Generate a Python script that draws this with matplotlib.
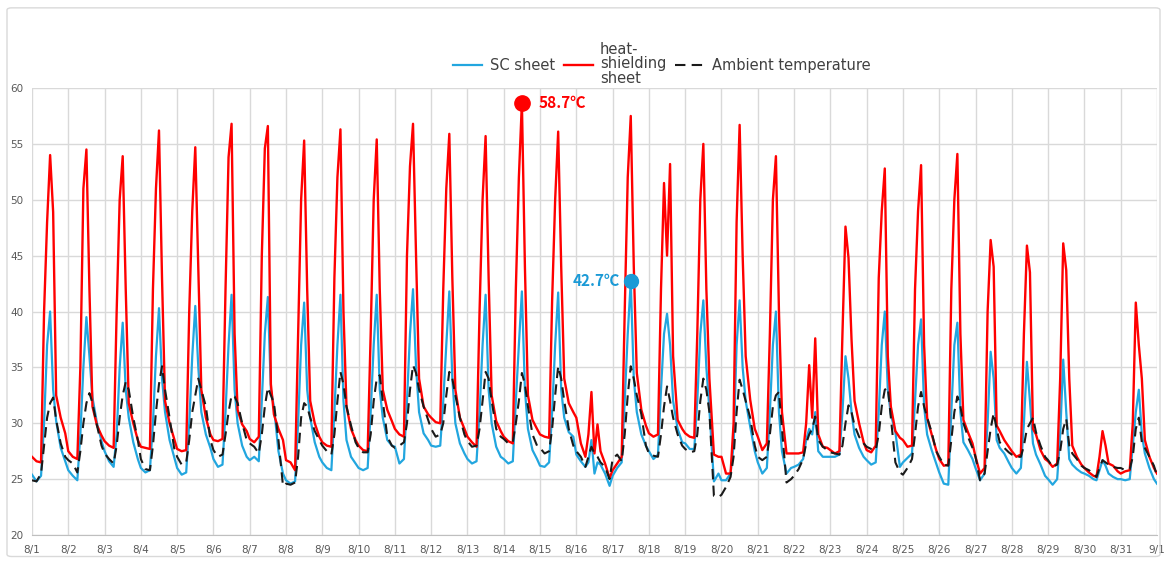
import numpy as np
import matplotlib
matplotlib.use("Agg")
import matplotlib.pyplot as plt
from matplotlib.patches import FancyBboxPatch

hours = [0, 3, 6, 8, 10, 12, 14, 16, 19, 22]
day_labels = [f"8/{d}" for d in range(1, 32)] + ["9/1"]

# heat-shielding sheet (one row per day, 8/1 .. 8/31)
heat_sheet = [
    [27.0, 26.6, 26.5, 40.0, 48.0, 54.0, 48.9, 32.5, 30.5, 29.1],
    [27.5, 27.0, 26.8, 35.0, 51.0, 54.5, 42.0, 31.5, 29.8, 28.9],
    [28.4, 28.0, 27.8, 40.0, 50.0, 53.9, 42.0, 31.8, 30.0, 28.5],
    [27.9, 27.8, 27.7, 42.0, 51.0, 56.2, 43.0, 32.0, 30.0, 28.6],
    [27.7, 27.5, 27.6, 40.0, 49.0, 54.7, 44.0, 33.0, 30.5, 29.0],
    [28.5, 28.4, 28.6, 42.0, 53.8, 56.8, 38.0, 31.2, 29.9, 29.3],
    [28.6, 28.3, 28.8, 45.0, 54.6, 56.6, 33.5, 30.8, 29.5, 28.5],
    [26.7, 26.5, 25.8, 38.0, 50.0, 55.3, 42.0, 32.0, 30.0, 28.8],
    [28.3, 28.0, 27.9, 43.0, 52.0, 56.3, 40.0, 31.5, 29.5, 28.5],
    [28.0, 27.6, 27.5, 38.0, 50.0, 55.4, 42.0, 33.0, 31.2, 30.2],
    [29.5, 29.0, 28.8, 45.0, 53.0, 56.8, 45.0, 34.0, 31.5, 30.8],
    [30.5, 30.1, 30.0, 42.0, 51.0, 55.9, 43.0, 33.0, 30.5, 29.5],
    [28.8, 28.3, 27.9, 40.0, 50.0, 55.7, 43.0, 32.5, 30.2, 29.3],
    [28.8, 28.4, 28.2, 42.0, 52.0, 58.7, 44.0, 32.5, 30.3, 29.5],
    [29.0, 28.8, 28.7, 41.0, 50.0, 56.1, 44.0, 34.0, 31.8, 31.0],
    [30.5, 28.2, 27.0, 29.0, 32.8, 27.3, 29.9, 27.5, 26.4, 25.1],
    [25.8, 26.4, 27.0, 40.0, 52.0, 57.5, 44.0, 34.5, 31.2, 29.8],
    [29.1, 28.8, 29.0, 42.0, 51.5, 45.0, 53.2, 36.0, 30.3, 29.5],
    [29.1, 28.8, 28.7, 38.0, 50.0, 55.0, 42.0, 34.0, 27.2, 27.0],
    [27.0, 25.5, 25.5, 30.0, 48.0, 56.7, 45.0, 36.0, 32.1, 29.5],
    [28.8, 27.6, 28.2, 38.0, 50.0, 53.9, 40.0, 31.0, 27.3, 27.3],
    [27.3, 27.3, 27.4, 30.0, 35.2, 30.5, 37.6, 29.0, 27.9, 27.8],
    [27.6, 27.3, 27.5, 38.0, 47.6, 44.8, 37.5, 32.0, 30.0, 28.3],
    [27.6, 27.4, 28.0, 43.0, 49.0, 52.8, 36.0, 31.5, 29.3, 28.7],
    [28.5, 27.9, 28.0, 42.0, 49.0, 53.1, 37.0, 30.5, 29.0, 27.6],
    [26.8, 26.2, 26.3, 42.0, 50.0, 54.1, 38.0, 30.3, 29.2, 28.2],
    [27.0, 25.5, 26.0, 40.0, 46.4, 44.0, 29.8, 29.3, 28.5, 27.9],
    [27.5, 27.0, 27.2, 38.0, 45.9, 43.5, 29.5, 29.0, 27.6, 26.8],
    [26.6, 26.1, 26.4, 34.0, 46.1, 43.7, 34.0, 28.0, 27.0, 26.3],
    [26.0, 25.6, 25.3, 25.2, 27.0, 29.3, 28.0, 26.4, 26.2, 25.7],
    [25.5, 25.7, 25.8, 30.0, 40.8, 37.0, 34.0, 28.5, 27.0, 26.0],
]
heat_sheet_end = 25.5

# SC sheet
sc_sheet = [
    [25.4, 24.8, 25.3, 30.0, 37.0, 40.0, 33.0, 30.2, 27.8, 26.6],
    [25.8, 25.3, 24.9, 29.0, 35.0, 39.5, 36.0, 32.3, 30.0, 28.4],
    [27.5, 26.6, 26.1, 29.0, 35.0, 39.0, 33.0, 30.5, 28.3, 26.8],
    [26.0, 25.6, 25.8, 30.0, 36.0, 40.3, 34.0, 31.0, 28.5, 27.0],
    [26.0, 25.4, 25.6, 30.0, 36.0, 40.5, 35.0, 31.0, 29.0, 27.8],
    [26.8, 26.1, 26.3, 31.0, 37.0, 41.5, 33.0, 30.0, 28.0, 27.0],
    [26.7, 27.0, 26.6, 32.0, 38.0, 41.3, 33.0, 31.5, 27.5, 25.5],
    [24.9, 24.6, 24.8, 30.0, 37.0, 40.8, 33.0, 30.5, 28.3, 27.0],
    [26.5, 26.0, 25.8, 31.0, 37.0, 41.5, 32.0, 28.5, 27.0, 26.4],
    [26.0, 25.8, 26.0, 31.0, 37.0, 41.5, 33.0, 30.5, 28.5, 28.0],
    [27.9, 26.4, 26.8, 32.0, 38.0, 42.0, 35.0, 31.0, 29.1, 28.5],
    [28.0, 27.9, 28.0, 32.0, 37.0, 41.8, 34.0, 30.0, 28.2, 27.3],
    [26.8, 26.4, 26.6, 31.0, 37.0, 41.5, 33.0, 30.0, 27.9, 27.0],
    [26.8, 26.4, 26.6, 32.0, 37.0, 41.8, 33.0, 29.5, 27.6, 26.8],
    [26.2, 26.1, 26.5, 31.0, 37.0, 41.7, 33.0, 30.5, 29.2, 28.8],
    [27.2, 26.6, 26.1, 26.5, 28.5, 25.5, 26.5, 26.3, 25.5, 24.4],
    [25.3, 26.0, 26.5, 32.0, 38.0, 42.7, 34.0, 31.0, 29.0, 28.0],
    [27.5, 26.8, 27.2, 33.0, 38.0, 39.8, 37.0, 32.0, 29.5, 28.3],
    [28.2, 27.7, 27.7, 32.0, 38.0, 41.0, 35.0, 31.2, 24.8, 25.5],
    [24.9, 24.9, 25.5, 28.0, 37.0, 41.0, 35.0, 32.0, 29.7, 27.5],
    [26.5, 25.5, 26.0, 31.0, 37.0, 40.0, 31.0, 27.5, 25.5, 26.0],
    [26.1, 26.3, 26.8, 28.5, 29.5, 29.0, 31.0, 27.5, 27.0, 27.0],
    [27.0, 27.0, 27.2, 31.0, 36.0, 34.0, 31.0, 29.0, 27.8, 27.0],
    [26.7, 26.3, 26.5, 31.0, 37.0, 40.0, 33.0, 30.8, 29.2, 26.1],
    [26.5, 26.9, 27.3, 32.0, 37.0, 39.3, 31.5, 29.0, 27.6, 26.4],
    [25.6, 24.6, 24.5, 31.0, 37.0, 39.0, 31.0, 28.3, 27.6, 26.8],
    [26.0, 24.9, 25.5, 30.0, 36.4, 34.0, 28.5, 27.8, 27.3, 26.5],
    [26.0, 25.5, 26.0, 30.0, 35.5, 32.0, 28.2, 27.2, 26.3, 25.3],
    [25.0, 24.5, 25.0, 29.0, 35.7, 31.0, 26.8, 26.3, 25.9, 25.6],
    [25.5, 25.3, 25.0, 24.9, 25.8, 26.7, 26.2, 25.5, 25.2, 25.0],
    [25.0, 24.9, 25.0, 28.0, 31.0, 33.0, 29.0, 27.3, 26.0, 25.0],
]
sc_sheet_end = 24.6

# ambient temperature
ambient = [
    [24.9, 24.8, 25.5, 28.0, 30.5, 31.8, 32.3, 30.3, 28.2, 27.0],
    [26.7, 26.4, 25.6, 27.5, 30.0, 31.8, 32.7, 31.8, 29.8, 28.0],
    [27.3, 26.8, 26.4, 28.0, 30.5, 32.5, 33.7, 33.0, 30.5, 28.5],
    [26.8, 25.9, 25.8, 28.0, 31.0, 33.5, 35.1, 33.0, 30.5, 27.8],
    [27.0, 26.3, 26.5, 28.5, 31.0, 32.5, 34.0, 33.0, 31.5, 28.5],
    [27.6, 27.0, 27.2, 29.0, 31.0, 32.5, 32.4, 31.8, 30.0, 28.5],
    [28.2, 27.9, 27.3, 29.0, 31.5, 33.2, 32.5, 31.8, 28.5, 24.4],
    [24.6, 24.5, 24.7, 27.0, 30.5, 31.8, 31.5, 30.5, 29.3, 28.5],
    [28.0, 27.5, 27.2, 29.0, 32.0, 34.6, 33.5, 31.5, 29.8, 28.3],
    [27.8, 27.4, 27.4, 29.0, 32.0, 34.0, 34.3, 32.0, 28.8, 28.0],
    [27.8, 28.0, 28.3, 30.0, 33.0, 35.2, 34.5, 33.0, 31.5, 30.3],
    [29.5, 28.8, 29.0, 30.0, 32.5, 34.6, 34.0, 32.5, 30.5, 29.0],
    [28.4, 27.9, 28.0, 29.5, 32.0, 34.6, 34.0, 32.0, 29.5, 28.8],
    [28.6, 28.2, 28.3, 30.0, 32.0, 34.5, 33.5, 31.5, 29.0, 28.0],
    [27.8, 27.3, 27.5, 29.5, 32.5, 35.1, 34.0, 32.0, 29.5, 28.0],
    [27.5, 27.0, 26.1, 27.0, 27.9, 27.3, 27.0, 26.5, 26.1, 25.0],
    [26.8, 27.2, 26.6, 29.0, 32.5, 35.1, 34.0, 32.5, 30.8, 28.0],
    [27.3, 27.1, 27.0, 29.0, 31.5, 33.3, 32.0, 30.5, 29.0, 28.0],
    [27.7, 27.4, 27.5, 29.0, 32.0, 34.0, 33.0, 31.0, 23.5, 23.4],
    [23.6, 24.3, 25.2, 27.0, 31.0, 33.9, 33.0, 32.0, 30.5, 28.0],
    [27.0, 26.7, 27.0, 29.0, 31.5, 32.5, 32.8, 29.5, 24.7, 25.0],
    [25.3, 25.9, 26.8, 28.2, 29.0, 29.5, 30.6, 28.5, 27.9, 27.6],
    [27.4, 27.3, 27.2, 28.0, 30.0, 31.6, 31.0, 29.8, 28.8, 28.2],
    [27.9, 27.7, 27.6, 29.0, 31.5, 33.0, 33.2, 30.5, 26.5, 25.6],
    [25.4, 26.0, 26.8, 29.0, 31.5, 32.8, 31.5, 30.5, 29.2, 27.5],
    [27.0, 26.3, 26.2, 28.5, 31.0, 32.4, 31.5, 30.0, 28.8, 27.8],
    [27.0, 24.9, 25.5, 27.5, 29.5, 30.9, 29.5, 28.3, 27.8, 27.4],
    [27.2, 27.0, 27.0, 28.0, 29.5, 30.0, 30.5, 29.2, 28.0, 27.0],
    [26.7, 26.1, 26.3, 27.5, 29.5, 30.4, 28.0, 27.3, 26.8, 26.2],
    [26.0, 25.8, 25.5, 25.2, 26.0, 26.7, 26.5, 26.3, 26.1, 26.0],
    [26.0, 25.8, 25.9, 27.0, 29.5, 30.5, 28.3, 27.8, 27.0, 26.2],
]
ambient_end = 25.3


def to_series(rows, end_value):
    t = [d + h / 24 for d in range(len(rows)) for h in hours] + [len(rows)]
    v = [x for row in rows for x in row] + [end_value]
    return np.array(t), np.array(v)


t_sc, v_sc = to_series(sc_sheet, sc_sheet_end)
t_heat, v_heat = to_series(heat_sheet, heat_sheet_end)
t_amb, v_amb = to_series(ambient, ambient_end)

blue = "#22A6DF"
red = "#FF0000"
grid_col = "#D9D9D9"
text_col = "#595959"

fig = plt.figure(figsize=(11.67, 5.61), dpi=100)
fig.patches.append(FancyBboxPatch((0.006, 0.008), 0.988, 0.978,
                                  boxstyle="round,pad=0,rounding_size=0.004",
                                  transform=fig.transFigure, fill=False,
                                  edgecolor=grid_col, linewidth=1.0))
ax = fig.add_axes([0.0274, 0.0463, 0.9640, 0.7968])

ax.plot(t_sc, v_sc, color=blue, linewidth=1.6, label="SC sheet")
ax.plot(t_heat, v_heat, color=red, linewidth=1.7, label="heat-\nshielding\nsheet")
ax.plot(t_amb, v_amb, color="#1A1A1A", linewidth=1.5, linestyle=(0, (5, 3)),
        label="Ambient temperature")

# highlight the maxima
i_heat = int(np.argmax(v_heat))
i_sc = int(np.argmax(v_sc))
ax.plot(t_heat[i_heat], v_heat[i_heat], "o", color=red, markersize=11, zorder=5)
ax.annotate(f"{v_heat[i_heat]:.1f}℃", (t_heat[i_heat], v_heat[i_heat]),
            xytext=(17, 0), textcoords="offset pixels", ha="left", va="center",
            color=red, fontsize=11, fontweight="bold",
            family=["Noto Sans CJK JP", "DejaVu Sans"])
ax.plot(t_sc[i_sc], v_sc[i_sc], "o", color="#1B9AD6", markersize=10, zorder=5)
ax.annotate(f"{v_sc[i_sc]:.1f}℃", (t_sc[i_sc], v_sc[i_sc]),
            xytext=(-11, 0), textcoords="offset pixels", ha="right", va="center",
            color="#1B9AD6", fontsize=11, fontweight="bold",
            family=["Noto Sans CJK JP", "DejaVu Sans"])

ax.set_xlim(0, 31)
ax.set_ylim(20, 60)
ax.set_xticks(range(32))
ax.set_xticklabels(day_labels)
ax.set_yticks(range(20, 61, 5))
ax.tick_params(axis="both", length=0, labelsize=7.5, labelcolor=text_col)
ax.tick_params(axis="x", pad=7)
ax.tick_params(axis="y", pad=6)
ax.grid(True, color=grid_col, linewidth=1.0)
ax.set_axisbelow(True)
for s in ["top", "right", "left"]:
    ax.spines[s].set_visible(False)
ax.spines["bottom"].set_color("#BFBFBF")

leg = fig.legend(loc="center", bbox_to_anchor=(0.567, 0.886), ncol=3, frameon=False,
                 fontsize=10.5, handlelength=2.0, columnspacing=0.6, handletextpad=0.5)
for txt in leg.get_texts():
    txt.set_color("#404040")
    txt.set_linespacing(0.95)

fig.savefig("out.png", dpi=100)
